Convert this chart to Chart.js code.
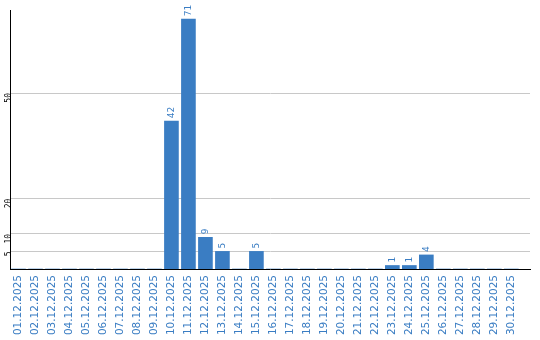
<!DOCTYPE html>
<html>
<head>
<meta charset="utf-8">
<script src="https://cdn.jsdelivr.net/npm/chart.js@4"></script>
<style>
    html, body { margin: 0; padding: 0; background: #fff; }
    #chart { display: block; }
</style>
</head>
<body>
<canvas id="chart" width="540" height="340"></canvas>
<script>
// Data
const days = ['01.12.2025', '02.12.2025', '03.12.2025', '04.12.2025', '05.12.2025', '06.12.2025',
    '07.12.2025', '08.12.2025', '09.12.2025', '10.12.2025', '11.12.2025', '12.12.2025',
    '13.12.2025', '14.12.2025', '15.12.2025', '16.12.2025', '17.12.2025', '18.12.2025',
    '19.12.2025', '20.12.2025', '21.12.2025', '22.12.2025', '23.12.2025', '24.12.2025',
    '25.12.2025', '26.12.2025', '27.12.2025', '28.12.2025', '29.12.2025', '30.12.2025'];
const counts = [0, 0, 0, 0, 0, 0, 0, 0, 0, 42, 71, 9, 5, 0, 5, 0, 0, 0, 0, 0, 0, 0, 1, 1, 4, 0, 0, 0, 0, 0];
const yTicks = [5, 10, 20, 50];

const blue = '#3a7dc3';

// Value labels above bars, reading upward
const barLabels = {
    id: 'barLabels',
    afterDatasetsDraw(chart) {
        const ctx = chart.ctx;
        const meta = chart.getDatasetMeta(0);
        ctx.save();
        ctx.fillStyle = blue;
        ctx.font = '9px "DejaVu Sans", sans-serif';
        ctx.textAlign = 'left';
        ctx.textBaseline = 'middle';
        meta.data.forEach((bar, i) => {
            if (!counts[i]) return;
            ctx.save();
            ctx.translate(bar.x, bar.y - 3);
            ctx.rotate(-Math.PI / 2);
            ctx.fillText(String(counts[i]), 0, 0);
            ctx.restore();
        });
        ctx.restore();
    }
};

new Chart(document.getElementById('chart'), {
    type: 'bar',
    data: {
        datasets: [{
            data: counts.map((v, i) => ({ x: i, y: v })),
            backgroundColor: blue,
            barThickness: 14,
            borderWidth: 0
        }]
    },
    options: {
        responsive: false,
        animation: false,
        layout: { padding: { top: 10, right: 10, left: 0, bottom: 0 } },
        plugins: { legend: { display: false }, tooltip: { enabled: false } },
        scales: {
            x: {
                type: 'linear',
                offset: false,
                min: -0.5,
                max: 30.1,
                afterBuildTicks: scale => { scale.ticks = days.map((_, i) => ({ value: i })); },
                afterFit: scale => {
                    scale.height = 71;
                    scale.paddingLeft = 0;
                    scale.paddingRight = 0;
                },
                grid: { display: false, drawTicks: false },
                border: { display: true, color: '#000', width: 1 },
                ticks: {
                    autoSkip: false,
                    minRotation: 90,
                    maxRotation: 90,
                    padding: 6,
                    color: blue,
                    font: { family: '"DejaVu Sans", sans-serif', size: 10.5 },
                    callback: v => days[v] || ''
                }
            },
            y: {
                min: 0,
                max: 73.6,
                afterBuildTicks: scale => { scale.ticks = yTicks.map(v => ({ value: v })); },
                afterFit: scale => {
                    scale.width = 10;
                    scale.paddingTop = 0;
                    scale.paddingBottom = 0;
                },
                grid: { color: '#c8c8c8', drawTicks: false },
                border: { display: true, color: '#000', width: 1 },
                ticks: {
                    minRotation: 90,
                    maxRotation: 90,
                    padding: 1,
                    color: '#000',
                    font: { family: '"DejaVu Sans Mono", monospace', size: 8 }
                }
            }
        }
    },
    plugins: [barLabels]
});
</script>
</body>
</html>
